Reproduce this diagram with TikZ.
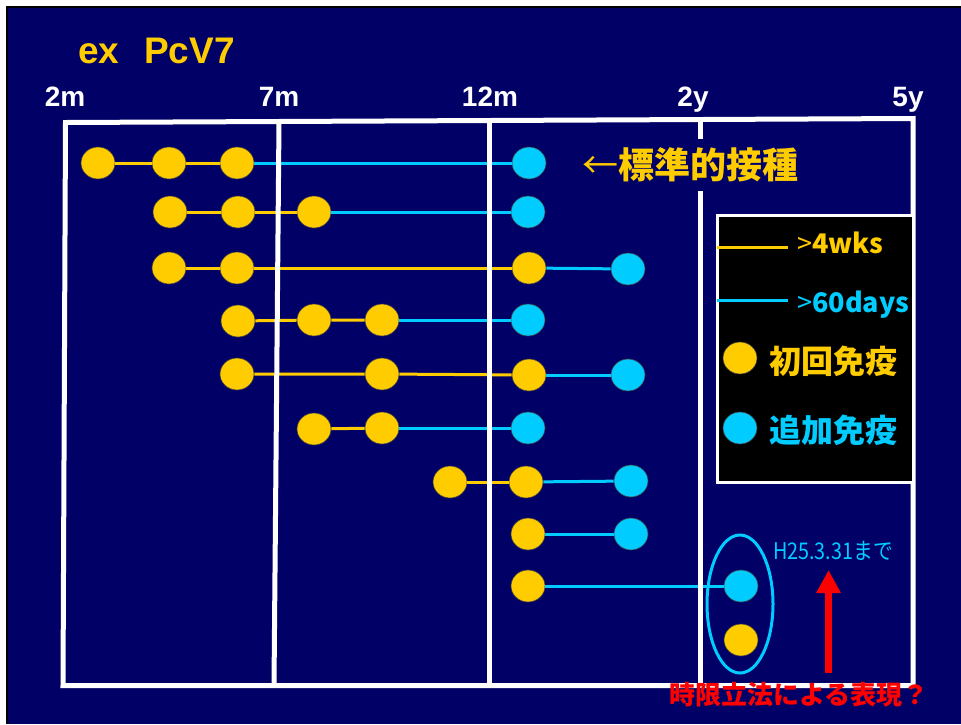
\documentclass[tikz,border=0pt]{standalone}
\usepackage{fontspec}
\setmainfont{Liberation Sans}
\newfontfamily\jpfont{Noto Sans CJK JP}
\usetikzlibrary{arrows.meta,shapes.geometric}
\definecolor{slide}{RGB}{0,0,102}
\definecolor{dose}{RGB}{255,204,0}
\definecolor{boost}{RGB}{0,204,255}

\begin{document}
\begin{tikzpicture}[x=1pt, y=-1pt,
  prim/.style={ellipse, draw=black!75, line width=.6pt, fill=dose,
               minimum width=34pt, minimum height=32pt, inner sep=0pt},
  bst/.style={prim, fill=boost},
  wk/.style={dose, line width=3pt},
  dy/.style={boost, line width=3pt},
  frm/.style={white, line width=5pt},
  axlbl/.style={white, anchor=base, inner sep=0pt,
                font=\bfseries\fontsize{28}{28}\selectfont},
  jp/.style={font=\jpfont\bfseries\fontsize{#1}{#1}\selectfont}
]
\useasboundingbox (0,0) rectangle (961,724);
\fill[white] (0,0) rectangle (961,724);
\fill[black] (6,6) rectangle (961,724);
\fill[slide] (8,8) rectangle (961,724);

\node[dose, anchor=base west, inner sep=0pt,
      font=\bfseries\fontsize{37}{37}\selectfont] (title) at (78,63) {ex\hspace{25pt}PcV7};

\node[axlbl] (m2)  at (65,106)  {2m};
\node[axlbl] (m7)  at (279,106) {7m};
\node[axlbl] (m12) at (490,106) {12m};
\node[axlbl] (y2)  at (693,106) {2y};
\node[axlbl] (y5)  at (908,106) {5y};

% one row per catch-up pattern
\node[prim] (a1) at (98,163)  {};
\node[prim] (a2) at (169,163) {};
\node[prim] (a3) at (237,163) {};
\node[bst]  (a4) at (529,163) {};

\node[prim] (b1) at (170,212) {};
\node[prim] (b2) at (238,212) {};
\node[prim] (b3) at (314,212) {};
\node[bst]  (b4) at (528,212) {};

\node[prim] (c1) at (169,268) {};
\node[prim] (c2) at (237,268) {};
\node[prim] (c3) at (529,268) {};
\node[bst]  (c4) at (628,269) {};

\node[prim] (d1) at (238,321) {};
\node[prim] (d2) at (314,320) {};
\node[prim] (d3) at (382,320) {};
\node[bst]  (d4) at (528,320) {};

\node[prim] (e1) at (237,374) {};
\node[prim] (e2) at (382,374) {};
\node[prim] (e3) at (529,375) {};
\node[bst]  (e4) at (628,375) {};

\node[prim] (f1) at (314,429) {};
\node[prim] (f2) at (382,428) {};
\node[bst]  (f3) at (528,428) {};

\node[prim] (g1) at (450,482) {};
\node[prim] (g2) at (526,482) {};
\node[bst]  (g3) at (631,481) {};

\node[prim] (h1) at (528,534) {};
\node[bst]  (h2) at (631,534) {};

\node[prim] (i1) at (528,586) {};
\node[bst]  (i2) at (741,586) {};

\node[prim] (j1) at (741,640) {};

\draw[wk] (a1) -- (a2) (a2) -- (a3);
\draw[dy] (a3) -- (a4);
\draw[wk] (b1) -- (b2) (b2) -- (b3);
\draw[dy] (b3) -- (b4);
\draw[wk] (c1) -- (c2) (c2) -- (c3);
\draw[dy] (c3) -- (c4);
\draw[wk] (d1) -- (d2) (d2) -- (d3);
\draw[dy] (d3) -- (d4);
\draw[wk] (e1) -- (e2) (e2) -- (e3);
\draw[dy] (e3) -- (e4);
\draw[wk] (f1) -- (f2);
\draw[dy] (f2) -- (f3);
\draw[wk] (g1) -- (g2);
\draw[dy] (g2) -- (g3);
\draw[dy] (h1) -- (h2);
\draw[dy] (i1) -- (i2);

% age grid
\draw[frm] (65.5,122.5) -- (913,118.5) -- (913,685.5) -- (63,685.5) -- cycle;
\draw[frm] (279,121) -- (274,685);
\draw[frm] (489,120) -- (489,685);
\draw[frm] (700,119) -- (700,685);

\node[jp=36, dose, fill=slide, inner xsep=1pt, inner ysep=9pt] (std) at (690,165) {{\mdseries ←}標準的接種};

% legend
\node[draw=white, line width=3pt, fill=black, outer sep=0pt,
      minimum width=196pt, minimum height=267pt] (key) at (815,348.5) {};
\coordinate (kw0) at (717,247);
\coordinate (kw1) at (788,247);
\draw[wk] (kw0) -- (kw1);
\node[jp=27, dose, anchor=base west, inner sep=0pt] (kwtxt) at (797,253) {{\mdseries >}4wks};
\coordinate (kd0) at (717,300);
\coordinate (kd1) at (788,300);
\draw[dy] (kd0) -- (kd1);
\node[jp=27, boost, anchor=base west, inner sep=0pt] (kdtxt) at (797,312) {{\mdseries >}60days};
\node[prim] (kprim) at (740,358) {};
\node[jp=32, dose] (kprimtxt) at (833,361) {初回免疫};
\node[bst] (kbst) at (740,428) {};
\node[jp=32, boost] (kbsttxt) at (833,430) {追加免疫};

% the two late doses under the transitional rule
\node[ellipse, draw=boost, line width=3pt,
      minimum width=66pt, minimum height=138pt] (grp) at (740,604) {};
\node[boost, font=\jpfont\fontsize{23}{23}\selectfont] (limit) at (833,551)
  {\scalebox{.86}[1]{H25.3.31まで}};
\coordinate (a0) at (828.5,673);
\coordinate (a9) at (828.5,570);
\draw[red, line width=7pt, -{Triangle[width=23pt,length=23pt]}] (a0) -- (a9);
\node[jp=26, red] (warn) at (799,695) {時限立法による表現？};
\end{tikzpicture}
\end{document}
